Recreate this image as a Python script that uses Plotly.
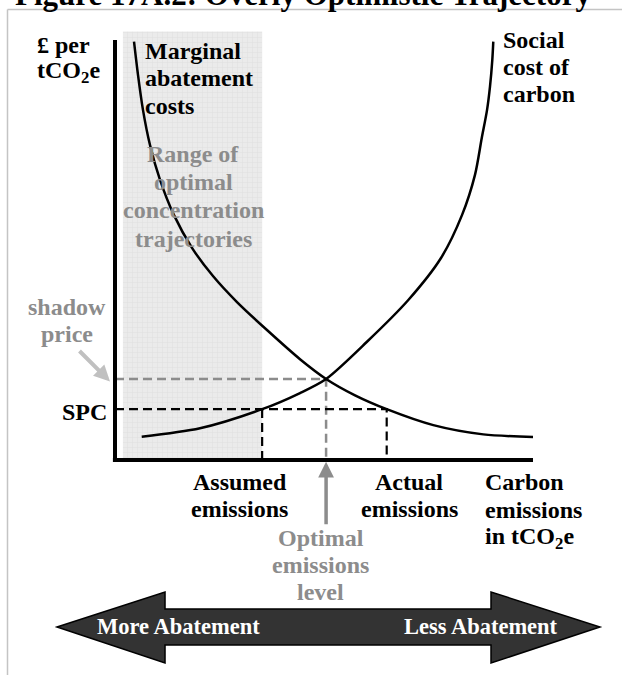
import plotly.graph_objects as go

# Data (abstract units: emissions on x, £ per tCO2e on y, axes run 0..10)
mac_x = [0.455, 0.55, 0.67, 0.837, 1.077, 1.411, 1.842, 2.344, 2.919, 3.629, 4.426, 5.05, 5.742, 6.50, 7.615, 8.811, 10.0]
mac_y = [9.96, 9.17, 8.33, 7.50, 6.67, 5.83, 5.05, 4.38, 3.76, 3.10, 2.40, 1.93, 1.54, 1.21, 0.83, 0.61, 0.55]
scc_x = [0.639, 2.033, 3.52, 4.426, 5.05, 6.022, 7.017, 7.799, 8.301, 8.612, 8.773, 8.90, 8.971, 9.026, 9.05]
scc_y = [0.555, 0.755, 1.21, 1.595, 1.93, 2.81, 3.81, 4.81, 5.83, 6.79, 7.66, 8.33, 8.89, 9.52, 9.96]

range_x = [0.19, 3.52]      # range of optimal concentration trajectories
range_top = 10.2
assumed_x = 3.52
actual_x = 6.50
optimal_x = 5.05
spc = 1.21
shadow_price = 1.93
axis_len = 10

W, H = 622, 675
# pixel position of the axis origin and size of one unit
X0, Y0, UX, UY = 115, 460, 41.8, 42.0

FONT = "Liberation Serif, Times New Roman, serif"
GREY = "#8c8c8c"


def px(x, y):
    # pixel -> paper fraction
    return x / W, 1 - y / H


fig = go.Figure()

# shaded band with a fine grid pattern
fig.add_trace(go.Bar(
    x=[(range_x[0] + range_x[1]) / 2], y=[range_top], width=[range_x[1] - range_x[0]],
    base=0,
    marker=dict(color="#ebebeb", line=dict(width=0),
                pattern=dict(shape="+", fgcolor="#d4d4d4", bgcolor="#ebebeb", size=5, solidity=0.2)),
    hoverinfo="skip"))

# dashed guide lines
fig.add_trace(go.Scatter(x=[0, optimal_x, optimal_x], y=[shadow_price, shadow_price, 0], mode="lines",
                         line=dict(color=GREY, width=2.5, dash="9px,5px")))
fig.add_trace(go.Scatter(x=[assumed_x, assumed_x, None, 0, actual_x, actual_x],
                         y=[0, spc, None, spc, spc, 0], mode="lines",
                         line=dict(color="black", width=2.2, dash="9px,5px")))

# curves
fig.add_trace(go.Scatter(x=mac_x, y=mac_y, mode="lines",
                         line=dict(color="black", width=2.5, shape="spline", smoothing=0.8)))
fig.add_trace(go.Scatter(x=scc_x, y=scc_y, mode="lines",
                         line=dict(color="black", width=2.5, shape="spline", smoothing=0.8)))

shapes = [
    # axes
    dict(type="line", xref="x", yref="y", x0=0, x1=0, y0=-0.05, y1=axis_len, line=dict(color="black", width=4)),
    dict(type="line", xref="x", yref="y", x0=-0.05, x1=axis_len, y0=0, y1=0, line=dict(color="black", width=4)),
    # frame
    dict(type="line", xref="paper", yref="paper", x0=7.5 / W, x1=1, y0=1 - 9.5 / H, y1=1 - 9.5 / H,
         line=dict(color="#c4c4c4", width=1.5)),
    dict(type="line", xref="paper", yref="paper", x0=7.5 / W, x1=7.5 / W, y0=0, y1=1 - 9.5 / H,
         line=dict(color="#c4c4c4", width=1.5)),
]

# double headed arrow
arrow_pts = [(57, 627), (165, 592), (165, 609), (491, 609), (491, 592), (600, 627),
             (491, 663), (491, 645), (165, 645), (165, 663)]
path = "M " + " L ".join("%.4f,%.4f" % px(a, b) for a, b in arrow_pts) + " Z"
shapes.append(dict(type="path", xref="paper", yref="paper", path=path,
                   fillcolor="#333333", line=dict(color="black", width=1.5)))

annotations = []


def label(lines, x, base, size=24, color="black", anchor="left", step=27.8):
    for i, t in enumerate(lines):
        cy = base + i * step - 0.34 * size
        ax_, ay_ = px(x, cy)
        annotations.append(dict(text="<b>%s</b>" % t, x=ax_, y=ay_, xref="paper", yref="paper",
                                xanchor=anchor, yanchor="middle", showarrow=False,
                                font=dict(family=FONT, size=size, color=color)))


# title, cut off by the top of the picture
label(["Figure 17A.2: Overly Optimistic Trajectory"], 303, 5, size=31, anchor="center")

label(["£ per", "tCO<sub>2</sub>e"], 35, 53, step=27)
label(["Marginal", "abatement", "costs"], 143, 59, step=27.5)
label(["Range of", "optimal", "concentration", "trajectories"], 193, 162, color=GREY, anchor="center", step=28.3)
label(["Social", "cost of", "carbon"], 501, 48, step=27)
label(["shadow", "price"], 67, 315, color=GREY, anchor="center", step=27)
label(["SPC"], 109, 420, anchor="right")
label(["Assumed", "emissions"], 240, 490, anchor="center", step=27)
label(["Actual", "emissions"], 409, 490, anchor="center", step=27)
label(["Carbon", "emissions", "in tCO<sub>2</sub>e"], 483, 490, step=28)
label(["Optimal", "emissions", "level"], 321, 546, color=GREY, anchor="center", step=27)
label(["More Abatement"], 95, 634, size=22.5, color="white")
label(["Less Abatement"], 560, 634, size=22.5, color="white", anchor="right")

# arrows
annotations.append(dict(x=-5 / UX, y=(Y0 - 381.5) / UY, xref="x", yref="y", text="", showarrow=True,
                        ax=-32, ay=-32, arrowhead=2, arrowsize=0.8, arrowwidth=4, arrowcolor="#c0c0c0"))
annotations.append(dict(x=optimal_x, y=-0.04, xref="x", yref="y", text="", showarrow=True,
                        ax=0, ay=64, arrowhead=2, arrowsize=0.9, arrowwidth=3.5, arrowcolor=GREY))

fig.update_layout(
    width=W, height=H, margin=dict(l=0, r=0, t=0, b=0),
    paper_bgcolor="white", plot_bgcolor="white", showlegend=False,
    xaxis=dict(range=[-X0 / UX, (W - X0) / UX], visible=False, fixedrange=True),
    yaxis=dict(range=[(Y0 - H) / UY, Y0 / UY], visible=False, fixedrange=True),
    shapes=shapes, annotations=annotations,
)

# drop the page's default body margin so the figure sits at the window's corner
fig.write_html("out.html", config={"displayModeBar": False},
               post_script="document.body.style.margin = '0';")
